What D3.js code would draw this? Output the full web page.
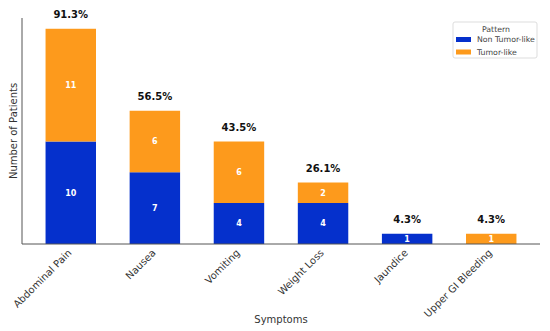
<!DOCTYPE html>
<html>
<head>
<meta charset="utf-8">
<script src="https://cdn.jsdelivr.net/npm/d3@7"></script>
<style>
  body { margin: 0; background: #fff; }
  svg { font-family: "DejaVu Sans", sans-serif; }
</style>
</head>
<body>
<svg width="550" height="331"></svg>
<script>
// data
var symptoms = ['Abdominal Pain', 'Nausea', 'Vomiting', 'Weight Loss', 'Jaundice', 'Upper GI Bleeding'];
var nonTumor = [10, 7, 4, 4, 1, 0];
var tumor = [11, 6, 6, 2, 0, 1];
var percents = ['91.3%', '56.5%', '43.5%', '26.1%', '4.3%', '4.3%'];
var patterns = ['Non Tumor-like', 'Tumor-like'];
var colors = ['#0530cc', '#fd9a1c'];

var svg = d3.select('svg');

var xScale = d3.scaleLinear()
    .domain([-0.58, 5.58])
    .range([22, 540]);
var yScale = d3.scaleLinear()
    .domain([0, 22.05])
    .range([244, 18]);
var barW = xScale(0.6) - xScale(0);

var rows = symptoms.map(function(s, i) {
    return {name: s, i: i, a: nonTumor[i], b: tumor[i], pct: percents[i]};
});

// stacked bars
var stack = d3.stack().keys(['a', 'b'])(rows);
stack.forEach(function(layer, k) {
    var g = svg.append('g');
    g.selectAll('rect')
        .data(layer)
        .enter()
        .append('rect')
        .attr('x', function(d, i) { return xScale(i) - barW / 2; })
        .attr('width', barW)
        .attr('y', function(d) { return yScale(d[1]); })
        .attr('height', function(d) { return yScale(d[0]) - yScale(d[1]); })
        .attr('fill', colors[k]);
    g.selectAll('text')
        .data(layer.filter(function(d) { return d[1] - d[0] > 0; }))
        .enter()
        .append('text')
        .attr('x', function(d) { return xScale(d.data.i); })
        .attr('y', function(d) { return yScale((d[0] + d[1]) / 2); })
        .attr('dy', '0.35em')
        .attr('text-anchor', 'middle')
        .attr('fill', '#fff')
        .attr('font-size', '8px')
        .attr('font-weight', 'bold')
        .text(function(d) { return d[1] - d[0]; });
});

// percent labels on top
svg.append('g')
    .selectAll('text')
    .data(rows)
    .enter()
    .append('text')
    .attr('x', function(d) { return xScale(d.i); })
    .attr('y', function(d) { return yScale(d.a + d.b) - 11; })
    .attr('text-anchor', 'middle')
    .attr('font-size', '10px')
    .attr('font-weight', 'bold')
    .attr('fill', '#111')
    .text(function(d) { return d.pct; });

// axes (spines only)
svg.append('line')
    .attr('x1', 22).attr('x2', 22)
    .attr('y1', yScale(22.05)).attr('y2', yScale(0))
    .attr('stroke', '#555').attr('stroke-width', 1);
svg.append('line')
    .attr('x1', 22).attr('x2', 540)
    .attr('y1', yScale(0)).attr('y2', yScale(0))
    .attr('stroke', '#555').attr('stroke-width', 1);

// rotated category labels
svg.append('g')
    .selectAll('text')
    .data(rows)
    .enter()
    .append('text')
    .attr('transform', function(d) {
        return 'translate(' + (xScale(d.i) - 1) + ',' + (yScale(0) + 7) + ') rotate(-45)';
    })
    .attr('text-anchor', 'end')
    .attr('dy', '0.35em')
    .attr('font-size', '10px')
    .attr('fill', '#333')
    .text(function(d) { return d.name; });

svg.append('text')
    .attr('transform', 'translate(281,323)')
    .attr('text-anchor', 'middle')
    .attr('font-size', '10px')
    .attr('fill', '#333')
    .text('Symptoms');

svg.append('text')
    .attr('transform', 'translate(17,131) rotate(-90)')
    .attr('text-anchor', 'middle')
    .attr('font-size', '10px')
    .attr('fill', '#333')
    .text('Number of Patients');

// legend
var legend = svg.append('g').attr('transform', 'translate(453,22)');
legend.append('rect')
    .attr('width', 84).attr('height', 36)
    .attr('rx', 2)
    .attr('fill', '#fff')
    .attr('stroke', '#ddd');
legend.append('text')
    .attr('x', 43).attr('y', 10)
    .attr('text-anchor', 'middle')
    .attr('font-size', '7.8px')
    .attr('fill', '#444')
    .text('Pattern');
patterns.forEach(function(p, k) {
    legend.append('rect')
        .attr('x', 3).attr('y', 15 + k * 12.5)
        .attr('width', 15).attr('height', 5)
        .attr('fill', colors[k]);
    legend.append('text')
        .attr('x', 24).attr('y', 18 + k * 12.5)
        .attr('dy', '0.3em')
        .attr('font-size', '7.8px')
        .attr('fill', '#444')
        .text(p);
});
</script>
</body>
</html>
